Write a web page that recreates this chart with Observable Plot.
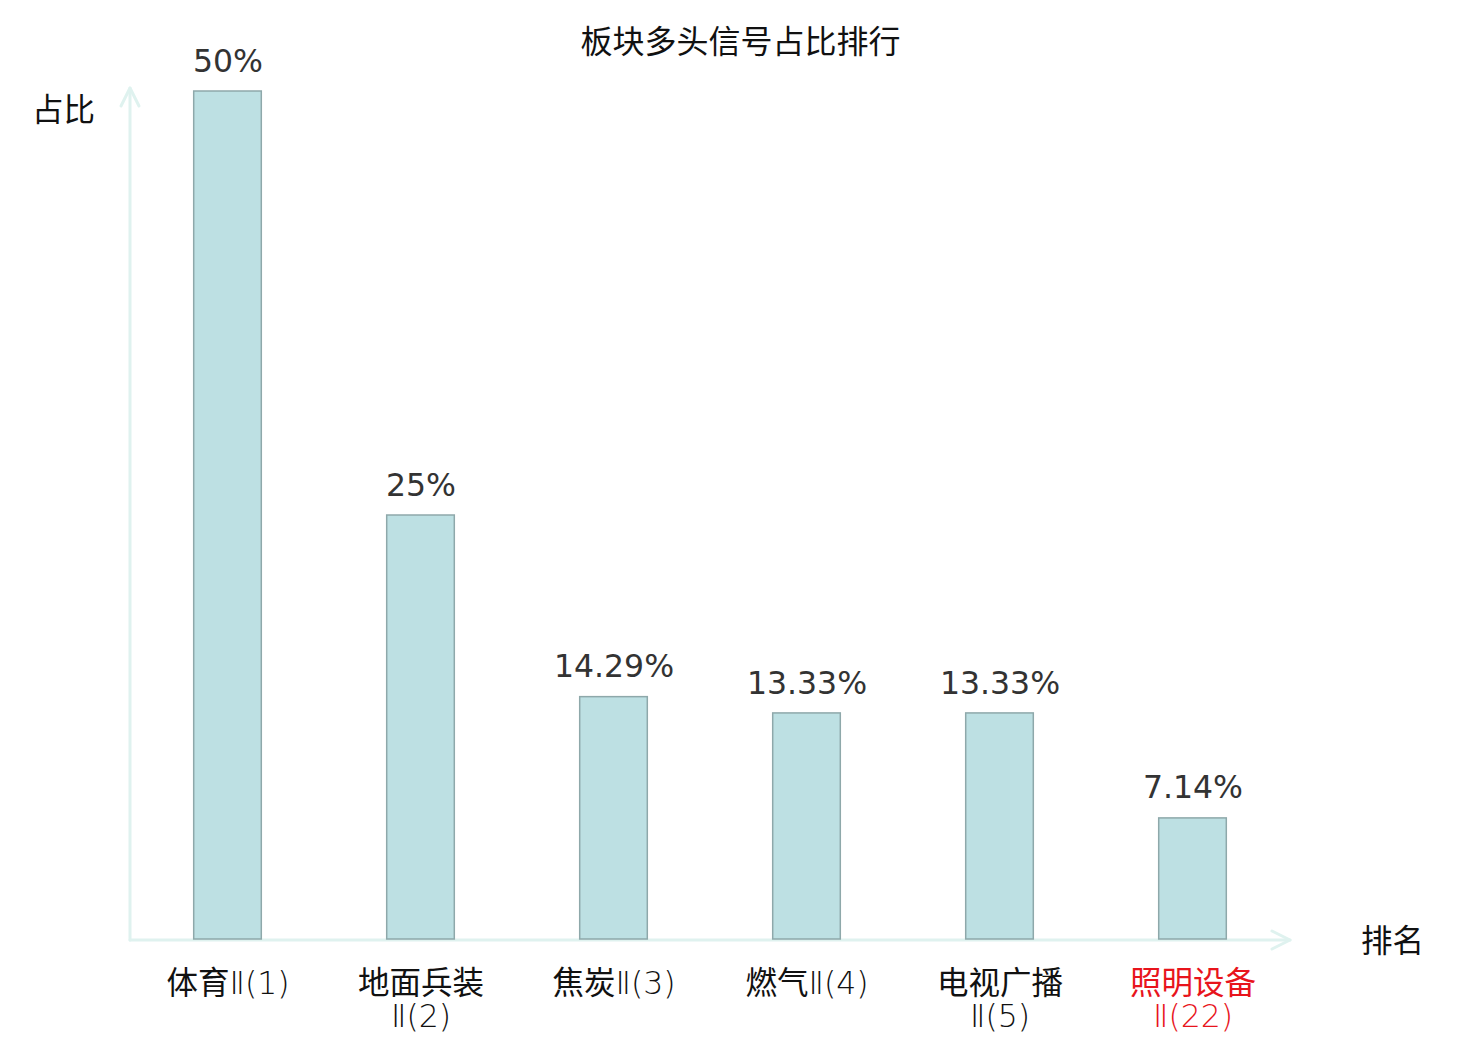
<!DOCTYPE html>
<html>
<head>
<meta charset="utf-8">
<script src="https://cdn.jsdelivr.net/npm/d3@7"></script>
<script src="https://cdn.jsdelivr.net/npm/@observablehq/plot@0.6"></script>
<style>
  html, body { margin: 0; padding: 0; background: #fff; }
  #chart svg { display: block; }
</style>
</head>
<body>
<div id="chart"></div>
<script>
const title = "板块多头信号占比排行";
const yAxisName = "占比";
const xAxisName = "排名";
const categories = ["体育Ⅱ(1)", "地面兵装Ⅱ(2)", "焦炭Ⅱ(3)", "燃气Ⅱ(4)", "电视广播Ⅱ(5)", "照明设备Ⅱ(22)"];
const tickLabels = ["体育Ⅱ(1)", "地面兵装\nⅡ(2)", "焦炭Ⅱ(3)", "燃气Ⅱ(4)", "电视广播\nⅡ(5)", "照明设备\nⅡ(22)"];
const values = [50, 25, 14.29, 13.33, 13.33, 7.14];
const valueLabels = ["50%", "25%", "14.29%", "13.33%", "13.33%", "7.14%"];
const highlighted = [false, false, false, false, false, true];

const data = categories.map((c, i) => ({
  cat: c, tick: tickLabels[i], value: values[i], label: valueLabels[i], hi: highlighted[i]
}));

const FONT = "'DejaVu Sans', 'Noto Sans CJK SC', sans-serif";
const AXIS_COLOR = "#dff2ef";

function axesMark(index, scales, values, dimensions) {
  const {width, height, marginLeft, marginRight, marginTop, marginBottom} = dimensions;
  const x0 = marginLeft, x1 = width - marginRight;
  const y0 = height - marginBottom + 1, y1 = marginTop - 3;
  const g = d3.create("svg:g")
    .attr("fill", "none")
    .attr("stroke", AXIS_COLOR)
    .attr("stroke-width", 3)
    .attr("stroke-linecap", "round")
    .attr("stroke-linejoin", "round");
  g.append("path").attr("d", `M${x0},${y0}L${x1},${y0}`);
  g.append("path").attr("d", `M${x1 - 18},${y0 - 9}L${x1},${y0}L${x1 - 18},${y0 + 9}`);
  g.append("path").attr("d", `M${x0},${y0}L${x0},${y1}`);
  g.append("path").attr("d", `M${x0 - 9},${y1 + 18}L${x0},${y1}L${x0 + 9},${y1 + 18}`);
  return g.node();
}

const chart = Plot.plot({
  width: 1480,
  height: 1040,
  marginLeft: 130,
  marginRight: 190,
  marginTop: 91,
  marginBottom: 101,
  style: {fontFamily: FONT, background: "#fff"},
  x: {domain: categories, padding: 0, axis: null},
  y: {domain: [0, 50], axis: null},
  marks: [
    axesMark,
    Plot.barY(data, {
      x: "cat", y: "value",
      insetLeft: 62.7, insetRight: 62.7,
      fill: "#bde0e3", stroke: "#8ea8aa", strokeWidth: 1.5
    }),
    Plot.text(data, {
      x: "cat", y: "value", text: "label",
      dy: -30, fontSize: 31.5, fill: "#333333"
    }),
    Plot.text(data, {
      x: "cat", text: "tick",
      frameAnchor: "bottom", lineAnchor: "top", dy: 31,
      lineHeight: 1.05, fontSize: 31.5,
      fill: d => d.hi ? "#e8141c" : "#111111"
    }),
    Plot.text([title], {
      frameAnchor: "top", dx: 30, dy: -49, lineAnchor: "middle",
      fontSize: 32, fill: "#111111"
    }),
    Plot.text([yAxisName], {
      frameAnchor: "top-left", textAnchor: "middle", lineAnchor: "middle",
      dx: -67, dy: 19, fontSize: 31.5, fill: "#111111"
    }),
    Plot.text([xAxisName], {
      frameAnchor: "bottom-right", textAnchor: "middle", lineAnchor: "middle",
      dx: 102, dy: 2, fontSize: 31.5, fill: "#111111"
    })
  ]
});

// Render the Latin part of the tick labels in a lighter weight, as in the reference
const textGroups = chart.querySelectorAll('g[aria-label="text"]');
const tickGroup = textGroups[1];
if (tickGroup) {
  const targets = [];
  tickGroup.querySelectorAll("text").forEach(t => {
    const spans = t.querySelectorAll("tspan");
    if (spans.length) spans.forEach(s => targets.push(s)); else targets.push(t);
  });
  const NS = "http://www.w3.org/2000/svg";
  targets.forEach(el => {
    const s = el.textContent;
    el.textContent = "";
    s.split(/([\u4e00-\u9fff]+)/).filter(p => p.length).forEach(p => {
      const ts = document.createElementNS(NS, "tspan");
      ts.textContent = p;
      if (!/[\u4e00-\u9fff]/.test(p)) ts.setAttribute("font-weight", "200");
      el.appendChild(ts);
    });
  });
}

document.getElementById("chart").appendChild(chart);
</script>
</body>
</html>
